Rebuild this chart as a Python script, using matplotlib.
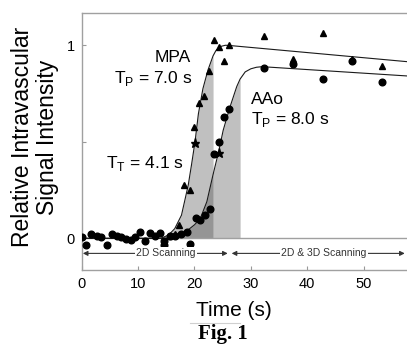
import numpy as np
import matplotlib
matplotlib.use('Agg')
import matplotlib.pyplot as plt
from matplotlib.lines import Line2D

plt.rcParams['font.family'] = ['Liberation Sans', 'DejaVu Sans']
plt.rcParams['mathtext.fontset'] = 'custom'
plt.rcParams['mathtext.rm'] = 'Liberation Sans'

# measured points (time s, relative intensity)
aao_t = [0.0, 0.7, 1.7, 2.7, 3.5, 4.4, 5.3, 6.2, 7.0, 7.9, 8.8, 9.5, 10.3, 11.2,
         12.1, 13.0, 13.9, 14.6, 14.6, 15.6, 16.5, 17.7, 18.6, 19.2, 20.2, 21.0,
         21.9, 22.7, 23.5, 24.4, 25.3, 26.1, 32.4, 37.5, 42.8, 48.0, 53.2]
aao_v = [0.005, -0.035, 0.024, 0.012, 0.005, -0.036, 0.024, 0.01, 0.008, -0.005,
         -0.01, 0.008, 0.032, -0.012, 0.026, 0.01, 0.027, -0.012, -0.035, 0.01,
         0.01, 0.02, 0.035, -0.028, 0.104, 0.095, 0.12, 0.152, 0.435, 0.497,
         0.627, 0.67, 0.884, 0.905, 0.824, 0.918, 0.811]

mpa_t = [15.5, 16.5, 17.3, 18.2, 19.2, 20.0, 20.8, 21.7, 22.6, 23.5, 24.4, 25.3,
         26.2, 32.4, 37.5, 42.8, 48.0, 53.2]
mpa_v = [0.01, 0.02, 0.07, 0.276, 0.25, 0.575, 0.703, 0.739, 0.865, 1.025, 0.993,
         0.92, 1.0, 1.05, 0.93, 1.065, 0.93, 0.893]

# half-maximum (transit) markers
star_t = [20.1, 24.3]
star_v = [0.496, 0.44]

# fitted curves
mpa_fit_t = [0, 14.0, 15.4, 16.5, 17.7, 18.9, 19.5, 20.1, 20.7, 21.5, 22.4, 23.3,
             23.8, 24.3, 24.8, 25.5, 26.5, 57.7]
mpa_fit_v = [0, 0, 0.017, 0.05, 0.12, 0.276, 0.385, 0.5, 0.645, 0.775, 0.872,
             0.945, 0.972, 0.987, 0.995, 1.0, 0.998, 0.915]
aao_fit_t = [0, 15.0, 17.0, 18.5, 20.0, 21.0, 22.2, 23.3, 24.3, 25.1, 26.3, 27.5,
             28.1, 29.0, 30.0, 31.0, 32.0, 57.7]
aao_fit_v = [0, 0, 0.01, 0.035, 0.07, 0.1, 0.19, 0.33, 0.45, 0.56, 0.68, 0.786,
             0.825, 0.862, 0.878, 0.886, 0.889, 0.841]

mpa_end = 23.3
aao_end = 28.1

fig = plt.figure(figsize=(4.07, 3.45), dpi=100)
ax = fig.add_axes([81.7 / 407, 75 / 345, 1 - 81.7 / 407, 257 / 345])

ft = np.array(mpa_fit_t)
fv = np.array(mpa_fit_v)
at = np.array(aao_fit_t)
av = np.array(aao_fit_v)

ax.fill_between(ft, 0, fv, where=ft <= mpa_end, color='#c0c0c0', lw=0, zorder=1)
ax.fill_between(at, 0, av, where=(at >= mpa_end) & (at <= aao_end),
                color='#c0c0c0', lw=0, zorder=1)
ax.fill_between(at, 0, av, where=at <= mpa_end, color='#959595', lw=0, zorder=1)
ax.axhline(0, color='#a0a0a0', lw=1.0, zorder=1.5)

ax.plot(ft, fv, color='#1a1a1a', lw=0.8, zorder=2)
ax.plot(at, av, color='#1a1a1a', lw=0.8, zorder=2)

ax.plot(aao_t, aao_v, 'o', color='black', ms=4.8, zorder=3)
ax.plot(mpa_t, mpa_v, '^', color='black', ms=4.8, zorder=3)
ax.plot(star_t, star_v, '*', color='black', ms=6.5, zorder=4)

fs = 12.5
ax.text(16.2, 0.935, 'MPA', fontsize=fs, ha='center', va='center')
ax.text(19.6, 0.83, r'T$_\mathrm{P}$ = 7.0 s', fontsize=fs, ha='right', va='center')
ax.text(18.0, 0.39, r'T$_\mathrm{T}$ = 4.1 s', fontsize=fs, ha='right', va='center')
ax.text(30.1, 0.72, 'AAo', fontsize=fs, ha='left', va='center')
ax.text(30.1, 0.615, r'T$_\mathrm{P}$ = 8.0 s', fontsize=fs, ha='left', va='center')

band_y = -0.078
for x0, x1, xm, label in [(0.2, 25.9, 14.9, '2D Scanning'),
                          (26.6, 57.3, 43.0, '2D & 3D Scanning')]:
    ax.annotate('', xy=(x0, band_y), xytext=(x1, band_y),
                arrowprops=dict(arrowstyle='<|-|>', color='#333333', lw=0.8,
                                shrinkA=0, shrinkB=0, mutation_scale=7),
                zorder=2)
    ax.text(xm, band_y, label, fontsize=7.5, color='#333333', ha='center',
            va='center', zorder=3,
            bbox=dict(facecolor='white', edgecolor='none', pad=1.0))

ax.set_xlim(0, 57.7)
ax.set_ylim(-0.164, 1.167)
ax.set_xticks([0, 10, 20, 30, 40, 50])
ax.set_yticks([0, 0.5, 1])
ax.set_yticklabels(['0', '', '1'])
ax.tick_params(direction='in', length=3, width=0.8, color='#999999',
               labelsize=10.5, pad=5)
for side in ['left', 'bottom', 'top']:
    ax.spines[side].set_color('#a0a0a0')
    ax.spines[side].set_linewidth(1.0)
ax.spines['right'].set_visible(False)

fig.text(35 / 407, 1 - 137 / 345, 'Relative Intravascular\nSignal Intensity',
         rotation=90, ha='center', va='center', fontsize=16.5, linespacing=1.15)
fig.text(234 / 407, 1 - 311 / 345, 'Time (s)', ha='center', va='center', fontsize=15)
fig.text(223 / 407, 6.5 / 345, 'Fig. 1', ha='center', va='baseline', fontsize=15,
         fontweight='bold', family='Liberation Serif')
fig.add_artist(Line2D([190 / 407, 240 / 407], [1 - 322.7 / 345, 1 - 322.7 / 345],
                      color='#d0d0d0', lw=0.8))

fig.savefig('out.png', dpi=100)
